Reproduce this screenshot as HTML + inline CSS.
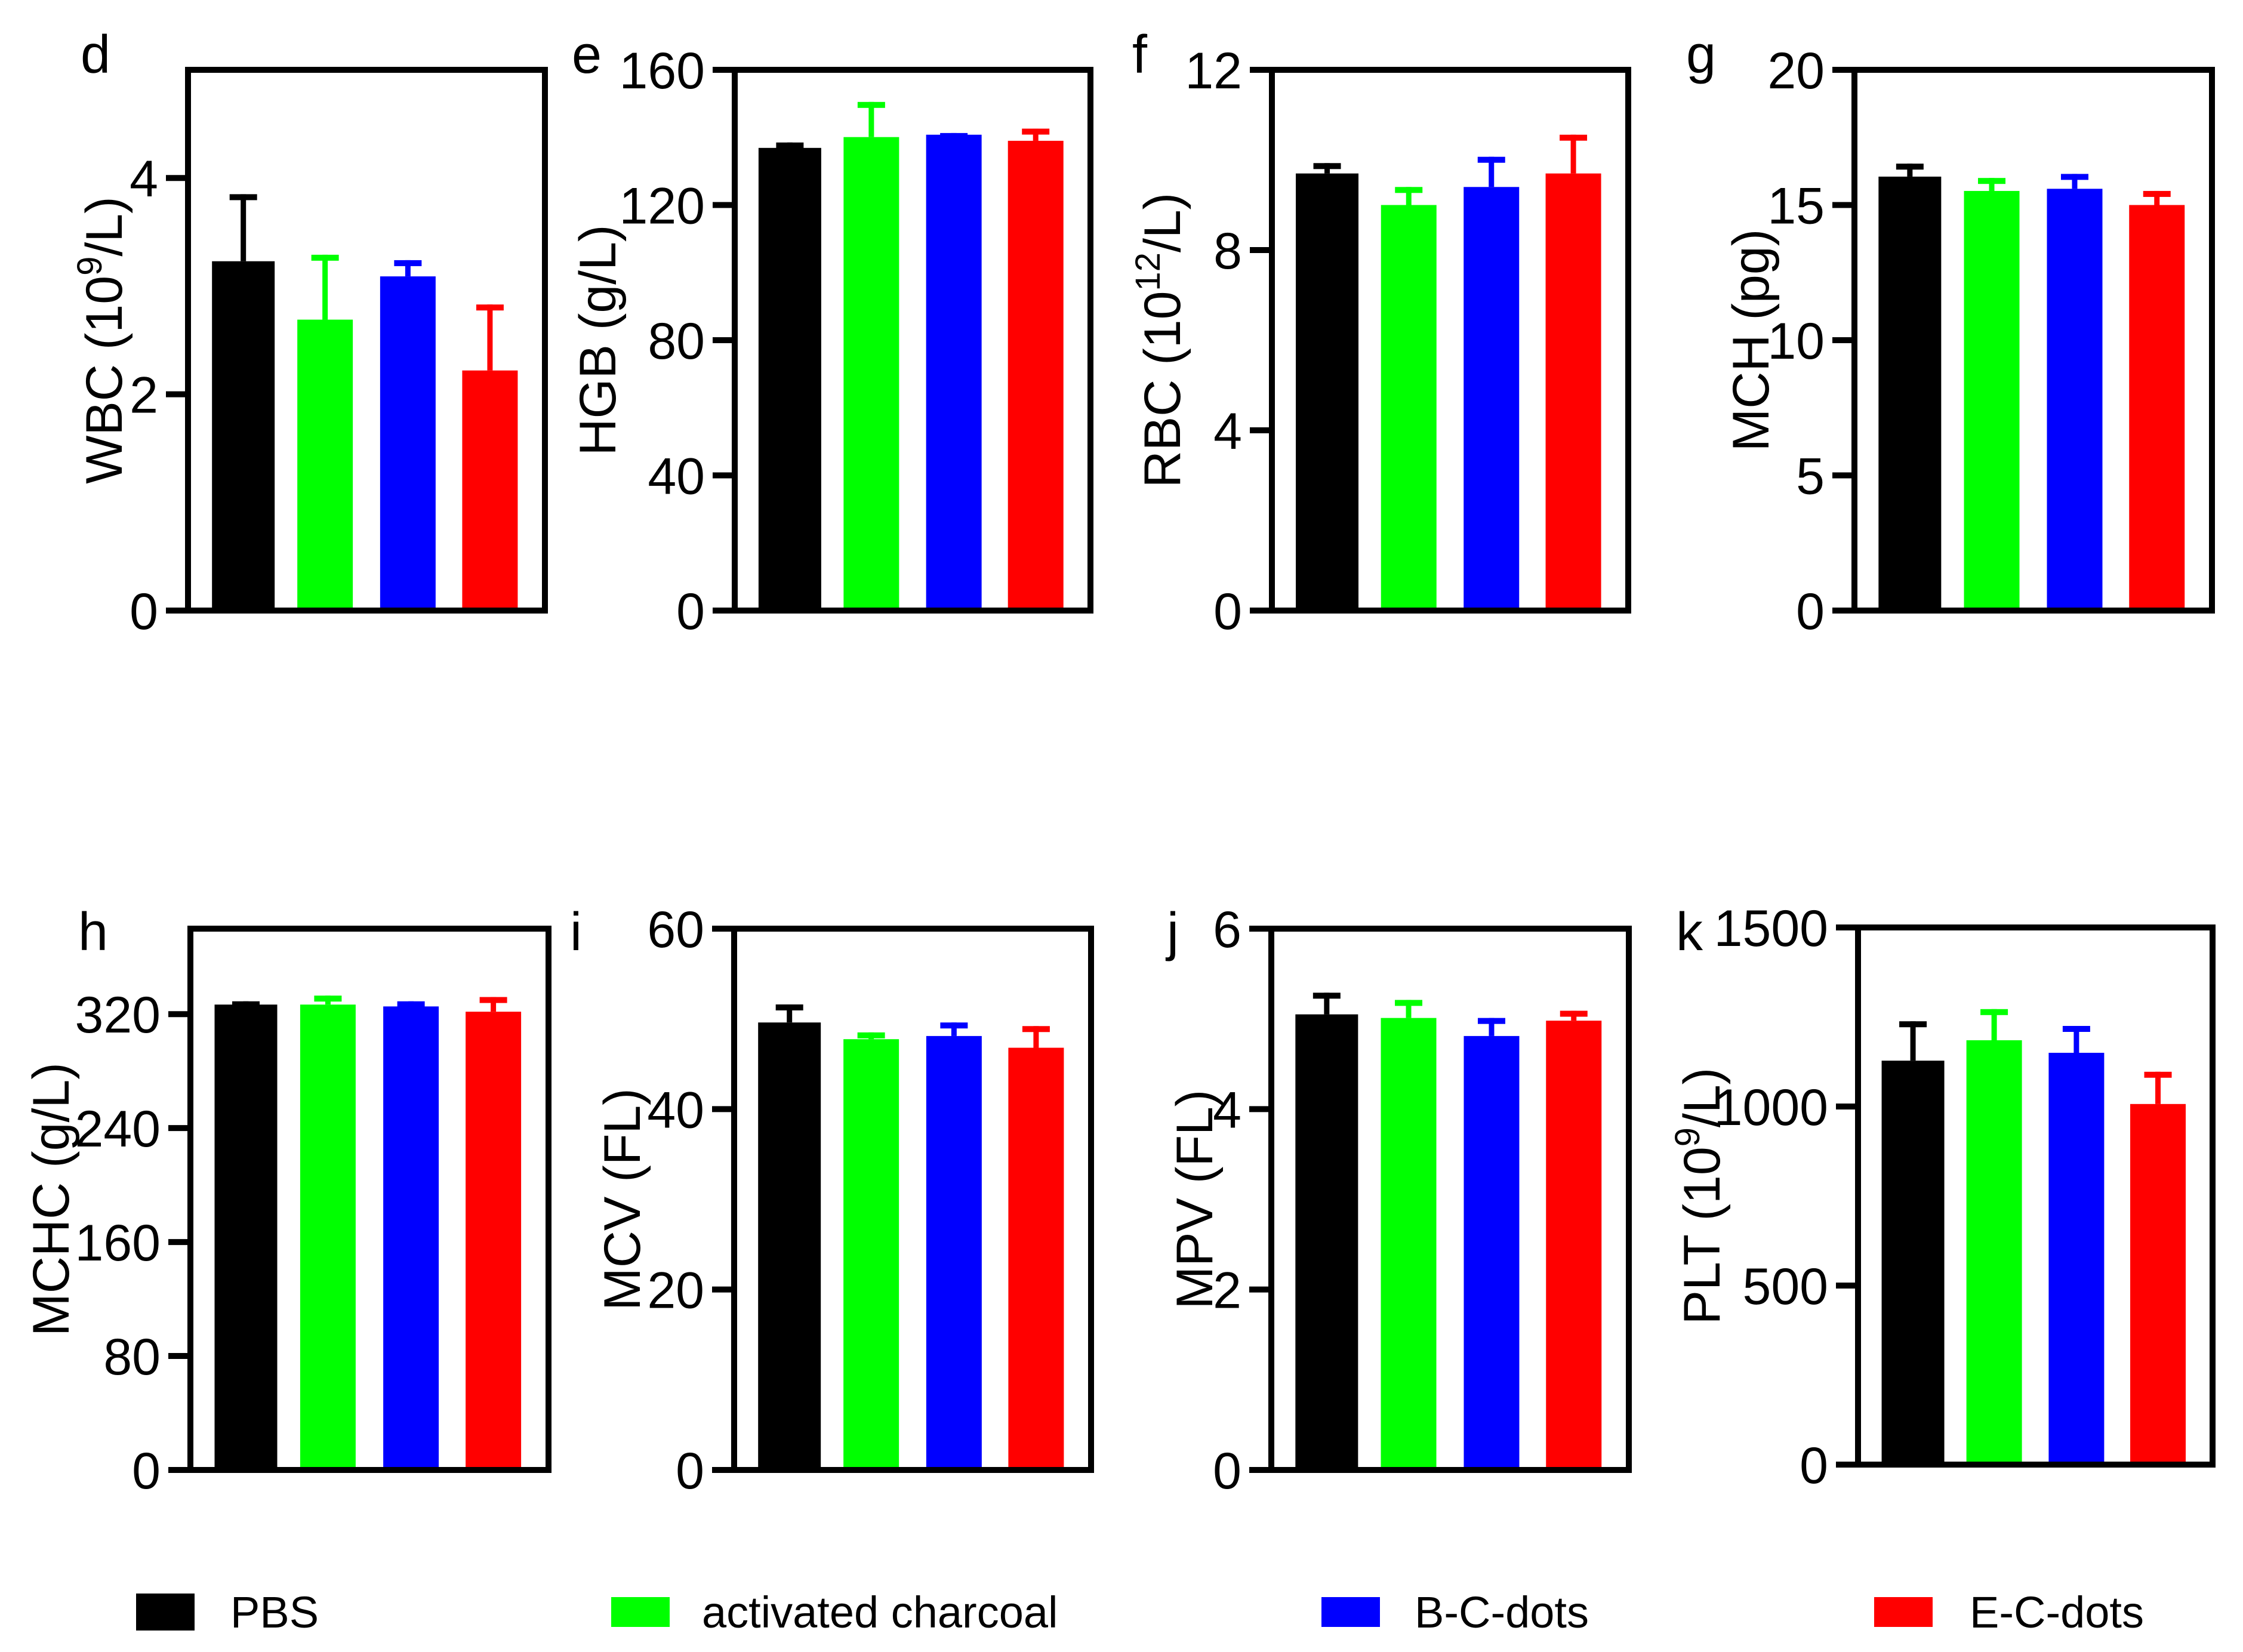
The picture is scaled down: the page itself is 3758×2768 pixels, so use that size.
<!DOCTYPE html>
<html><head><meta charset="utf-8">
<style>
html,body{margin:0;padding:0;background:#fff;}
svg{display:block;font-family:"Liberation Sans",Arial,sans-serif;}
</style></head>
<body>
<svg id="fig" width="3758" height="2768" viewBox="0 0 3758 2768" xmlns="http://www.w3.org/2000/svg"></svg>
<script>
// ---- data ----
const groups = ["PBS", "activated charcoal", "B-C-dots", "E-C-dots"];
const colors = ["#000000", "#00ff00", "#0000ff", "#ff0000"];
const panelIds = ["d","e","f","g","h","i","j","k"];
const wbcMean = [3.23, 2.69, 3.09, 2.22];
const wbcErr  = [3.85, 3.29, 3.24, 2.83];
const hgbMean = [136.9, 140.1, 140.8, 139.0];
const hgbErr  = [138.5, 150.5, 141.3, 142.6];
const rbcMean = [9.7, 9.0, 9.4, 9.7];
const rbcErr  = [9.93, 9.4, 10.07, 10.56];
const mchMean = [16.05, 15.52, 15.6, 15.0];
const mchErr  = [16.53, 16.0, 16.15, 15.52];
const mchcMean = [326.7, 326.7, 325.4, 321.7];
const mchcErr  = [329, 333, 329, 332];
const mcvMean = [49.6, 47.75, 48.1, 46.8];
const mcvErr  = [51.6, 48.5, 49.6, 49.2];
const mpvMean = [5.05, 5.01, 4.81, 4.98];
const mpvErr  = [5.29, 5.21, 5.01, 5.09];
const pltMean = [1128, 1185, 1150, 1007];
const pltErr  = [1238, 1272, 1225, 1097];
const wbcTicks = [0, 2, 4];
const hgbTicks = [0, 40, 80, 120, 160];
const rbcTicks = [0, 4, 8, 12];
const mchTicks = [0, 5, 10, 15, 20];
const mchcTicks = [0, 80, 160, 240, 320];
const mcvTicks = [0, 20, 40, 60];
const mpvTicks = [0, 2, 4, 6];
const pltTicks = [0, 500, 1000, 1500];
const yMax = [5, 160, 12, 20, 380, 60, 6, 1500];

const NS = "http://www.w3.org/2000/svg";
const svg = document.getElementById("fig");
function mk(tag, attrs, parent){
  const e = document.createElementNS(NS, tag);
  for (const k in attrs) e.setAttribute(k, attrs[k]);
  (parent||svg).appendChild(e);
  return e;
}

const panels = [
  {id:"d", name:"wbc", L:315, R:913, T:117, B:1023, mean:wbcMean, err:wbcErr, ticks:wbcTicks, max:yMax[0], title:["WBC (10","9","/L)"], tdx:-142},
  {id:"e", name:"hgb", L:1231, R:1827, T:117, B:1023, mean:hgbMean, err:hgbErr, ticks:hgbTicks, max:yMax[1], title:["HGB (g/L)"], tdx:-231},
  {id:"f", name:"rbc", L:2131, R:2728, T:117, B:1023, mean:rbcMean, err:rbcErr, ticks:rbcTicks, max:yMax[2], title:["RBC (10","12","/L)"], tdx:-185},
  {id:"g", name:"mch", L:3107, R:3706, T:117, B:1023, mean:mchMean, err:mchErr, ticks:mchTicks, max:yMax[3], title:["MCH (pg)"], tdx:-175},
  {id:"h", name:"mchc", L:319, R:919, T:1556, B:2463, mean:mchcMean, err:mchcErr, ticks:mchcTicks, max:yMax[4], title:["MCHC (g/L)"], tdx:-235},
  {id:"i", name:"mcv", L:1230, R:1828, T:1556, B:2463, mean:mcvMean, err:mcvErr, ticks:mcvTicks, max:yMax[5], title:["MCV (FL)"], tdx:-189},
  {id:"j", name:"mpv", L:2130, R:2729, T:1556, B:2463, mean:mpvMean, err:mpvErr, ticks:mpvTicks, max:yMax[6], title:["MPV (FL)"], tdx:-130},
  {id:"k", name:"plt", L:3113, R:3707, T:1554, B:2454, mean:pltMean, err:pltErr, ticks:pltTicks, max:yMax[7], title:["PLT (10","9","/L)"], tdx:-263}
];
const letterX = [135, 958, 1897, 2825, 131, 955, 1955, 2808];
const centerFrac = [0.155, 0.384, 0.616, 0.846];

panels.forEach((p, pi) => {
  const g = mk("g", {});
  
  
  const W = p.R - p.L;
  const y = v => p.B - (v / p.max) * (p.B - p.T);
  const x = i => p.L + W * centerFrac[i];

  p.mean.forEach((m, i) => {
    const bw = i === 0 ? 105 : 93;
    const bar = mk("rect", {x: x(i) - bw/2, y: y(m), width: bw, height: p.B - y(m), fill: colors[i]}, g);
    
    
    const ey = y(p.err[i]);
    const stem = mk("rect", {x: x(i) - 4.5, y: ey, width: 9, height: y(m) - ey, fill: colors[i]}, g);
    
    
    const cap = mk("rect", {x: x(i) - 23, y: ey, width: 46, height: 10, fill: colors[i]}, g);
    
    
  });

  const fr = mk("rect", {x: p.L, y: p.T, width: W, height: p.B - p.T, fill: "none", stroke: "#000", "stroke-width": 10}, g);
  
  

  p.ticks.forEach(t => {
    const ty = y(t);
    const tk = mk("line", {x1: p.L - 37, x2: p.L, y1: ty, y2: ty, stroke: "#000", "stroke-width": 10}, g);
    
    
    const lb = mk("text", {x: p.L - 50, y: ty + 31, "text-anchor": "end", "font-size": 86}, g);
    lb.textContent = t;
    
    
  });

  const cx = p.L + p.tdx, cy = (p.T + p.B) / 2;
  const tt = mk("text", {x: 0, y: 0, "text-anchor": "middle", "font-size": 86, transform: `translate(${cx + 31},${cy}) rotate(-90)`}, g);
  
  
  if (p.title.length === 1) { tt.textContent = p.title[0]; }
  else {
    const a = mk("tspan", {}, tt); a.textContent = p.title[0];
    const b = mk("tspan", {dy: -34, "font-size": 58}, tt); b.textContent = p.title[1];
    const c = mk("tspan", {dy: 34}, tt); c.textContent = p.title[2];
  }

  const lt = mk("text", {x: letterX[pi], y: p.T < 500 ? 122 : 1592, "font-size": 90}, g);
  lt.textContent = p.id;
  
  
});

const legSwX = [228, 1024, 2214, 3140];
const legTxX = [386, 1176, 2370, 3300];
const lg = mk("g", {});


groups.forEach((name, i) => {
  const sw = mk("rect", {x: legSwX[i], y: i === 0 ? 2670 : 2676, width: 98, height: i === 0 ? 62 : 50, fill: colors[i]}, lg);
  
  
  const t = mk("text", {x: legTxX[i], y: 2727, "font-size": 74}, lg);
  t.textContent = name;
  
  
});
</script>
</body></html>
